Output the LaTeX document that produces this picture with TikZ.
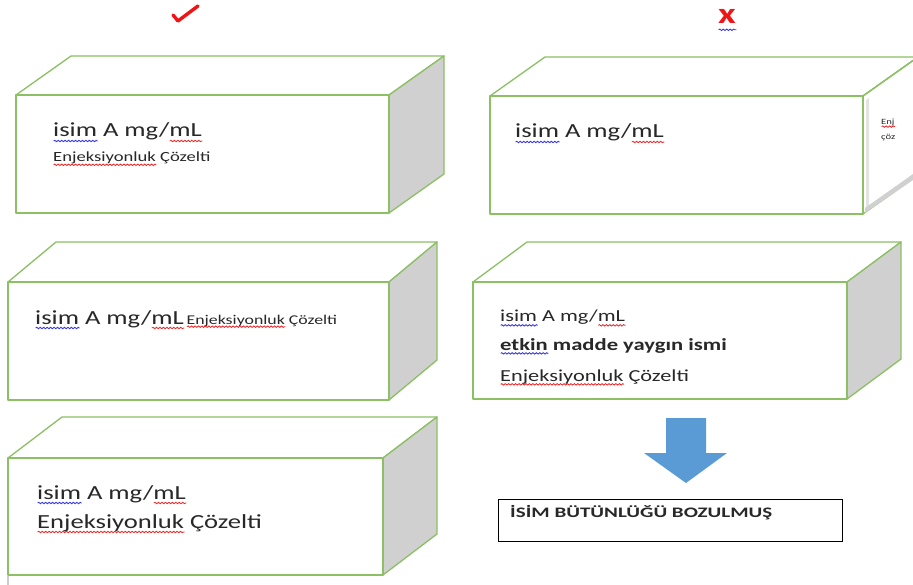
\documentclass[tikz,border=0pt]{standalone}
\usepackage{fontspec}
\setmainfont{Carlito}
\usepackage{graphicx}
\usetikzlibrary{decorations.pathmorphing}
\definecolor{boxgreen}{RGB}{140,192,100}
\definecolor{sidegray}{RGB}{208,208,208}
\definecolor{arrowblue}{RGB}{91,155,213}
\definecolor{sqred}{RGB}{235,40,40}
\definecolor{sqblue}{RGB}{50,50,235}
\definecolor{markred}{RGB}{240,20,20}
\definecolor{txt}{RGB}{40,40,40}
\newsavebox\sqbox
\newcommand\sq[2]{\sbox\sqbox{#2}\rlap{\usebox\sqbox}\hbox to \wd\sqbox{\tikz[baseline=0pt]\draw[#1,line width=0.75pt,decorate,decoration={snake,amplitude=0.7pt,segment length=2.6pt}] (0pt,-0.2em) -- (\the\wd\sqbox,-0.2em);\hss}}
\newcommand\sx[1]{\scalebox{1.33}[1]{#1}}
\newcommand\fs[1]{\fontsize{#1}{#1}\selectfont}
\tikzset{
 face/.style={draw=boxgreen, line width=1.3pt, fill=white, line join=round},
 side/.style={draw=boxgreen, line width=1.3pt, fill=sidegray, line join=round},
 lbl/.style={anchor=base west, inner sep=0pt, text=txt},
}
\newcommand\cuboid[6]{%
 \draw[face] (#1,#2) -- (#1+#5,#2-#6) -- (#3+#5,#2-#6) -- (#3,#2) -- cycle;
 \draw[side] (#3,#2) -- (#3+#5,#2-#6) -- (#3+#5,#4-#6) -- (#3,#4) -- cycle;
 \draw[face] (#1,#2) rectangle (#3,#4);}
\begin{document}
\begin{tikzpicture}[x=1pt,y=-1pt]
\useasboundingbox (0,0) rectangle (913,585);
\fill[white] (0,0) rectangle (913,585);
\clip (0,0) rectangle (913,585);
% check mark and cross
\draw[markred, line width=3.4pt, line cap=round, line join=round] (173,15) -- (178,21) -- (198,6);
\node[lbl, text=markred] (xmark) at (718,24) {\sx{\fs{29}\bfseries \sq{sqblue}{x}}};
% box 1
\cuboid{16}{95}{389}{213}{55}{39}
\node[lbl] (b1a) at (53,137) {\sx{\fs{20}\sq{sqblue}{isim} A mg/\sq{sqred}{mL}}};
\node[lbl] (b1b) at (53,162) {\sx{\fs{14}\sq{sqred}{Enjeksiyonluk} Çözelti}};
% box 2 (turned)
\draw[face] (490,96) -- (545,57) -- (918,57) -- (863,96) -- cycle;
\draw[face] (863,96) -- (918,57) -- (918,175) -- (863,214) -- cycle;
\fill[sidegray!60] (866,100) -- (869,98) -- (869,207) -- (866,209) -- cycle;
\fill[sidegray] (865,208) -- (913,174) -- (913,180) -- (865,213) -- cycle;
\draw[boxgreen, line width=1.3pt] (863,96) -- (918,57);
\draw[face] (490,96) rectangle (863,214);
\node[lbl] (b2a) at (515,138) {\sx{\fs{20}\sq{sqblue}{isim} A mg/\sq{sqred}{mL}}};
\node[lbl] (b2b) at (881,125) {\sx{\fs{8}\sq{sqred}{Enj}}};
\node[lbl] (b2c) at (881,140) {\sx{\fs{8}çöz}};
% box 3
\cuboid{8}{282}{389}{400}{48}{40}
\node[lbl] (b3) at (35,324) {\sx{\fs{20}\sq{sqblue}{isim} A mg/\sq{sqred}{mL}\hspace{0.1em}\fs{13.4}\sq{sqred}{Enjeksiyonluk} Çözelti}};
% box 4
\cuboid{473}{282}{847}{399}{54}{40}
\node[lbl] (b4a) at (500,322) {\sx{\fs{16.8}\sq{sqblue}{isim} A mg/\sq{sqred}{mL}}};
\node[lbl] (b4b) at (500,350) {\sx{\fs{17}\bfseries \sq{sqblue}{etkin} madde yaygın ismi}};
\node[lbl] (b4c) at (500,381) {\sx{\fs{16.8}\sq{sqred}{Enjeksiyonluk} Çözelti}};
% box 5
\cuboid{8}{458}{383}{575}{54}{41}
\draw[gray!40, line width=1.5pt] (8,576) -- (8,585);
\node[lbl] (b5a) at (37,499) {\sx{\fs{20}\sq{sqblue}{isim} A mg/\sq{sqred}{mL}}};
\node[lbl] (b5b) at (37,528) {\sx{\fs{20}\sq{sqred}{Enjeksiyonluk} Çözelti}};
% block arrow
\fill[arrowblue] (666,418) -- (706,418) -- (706,453) -- (727,453) -- (686,483) -- (644,453) -- (666,453) -- cycle;
% result box
\node[draw=black, line width=0.9pt, minimum width=344pt, minimum height=42pt, inner sep=0pt, anchor=north west] (res) at (498,499) {};
\node[lbl] (restext) at (510,517) {\scalebox{1.45}[1]{\fs{14.5}\bfseries İSİM BÜTÜNLÜĞÜ BOZULMUŞ}};
\end{tikzpicture}
\end{document}
